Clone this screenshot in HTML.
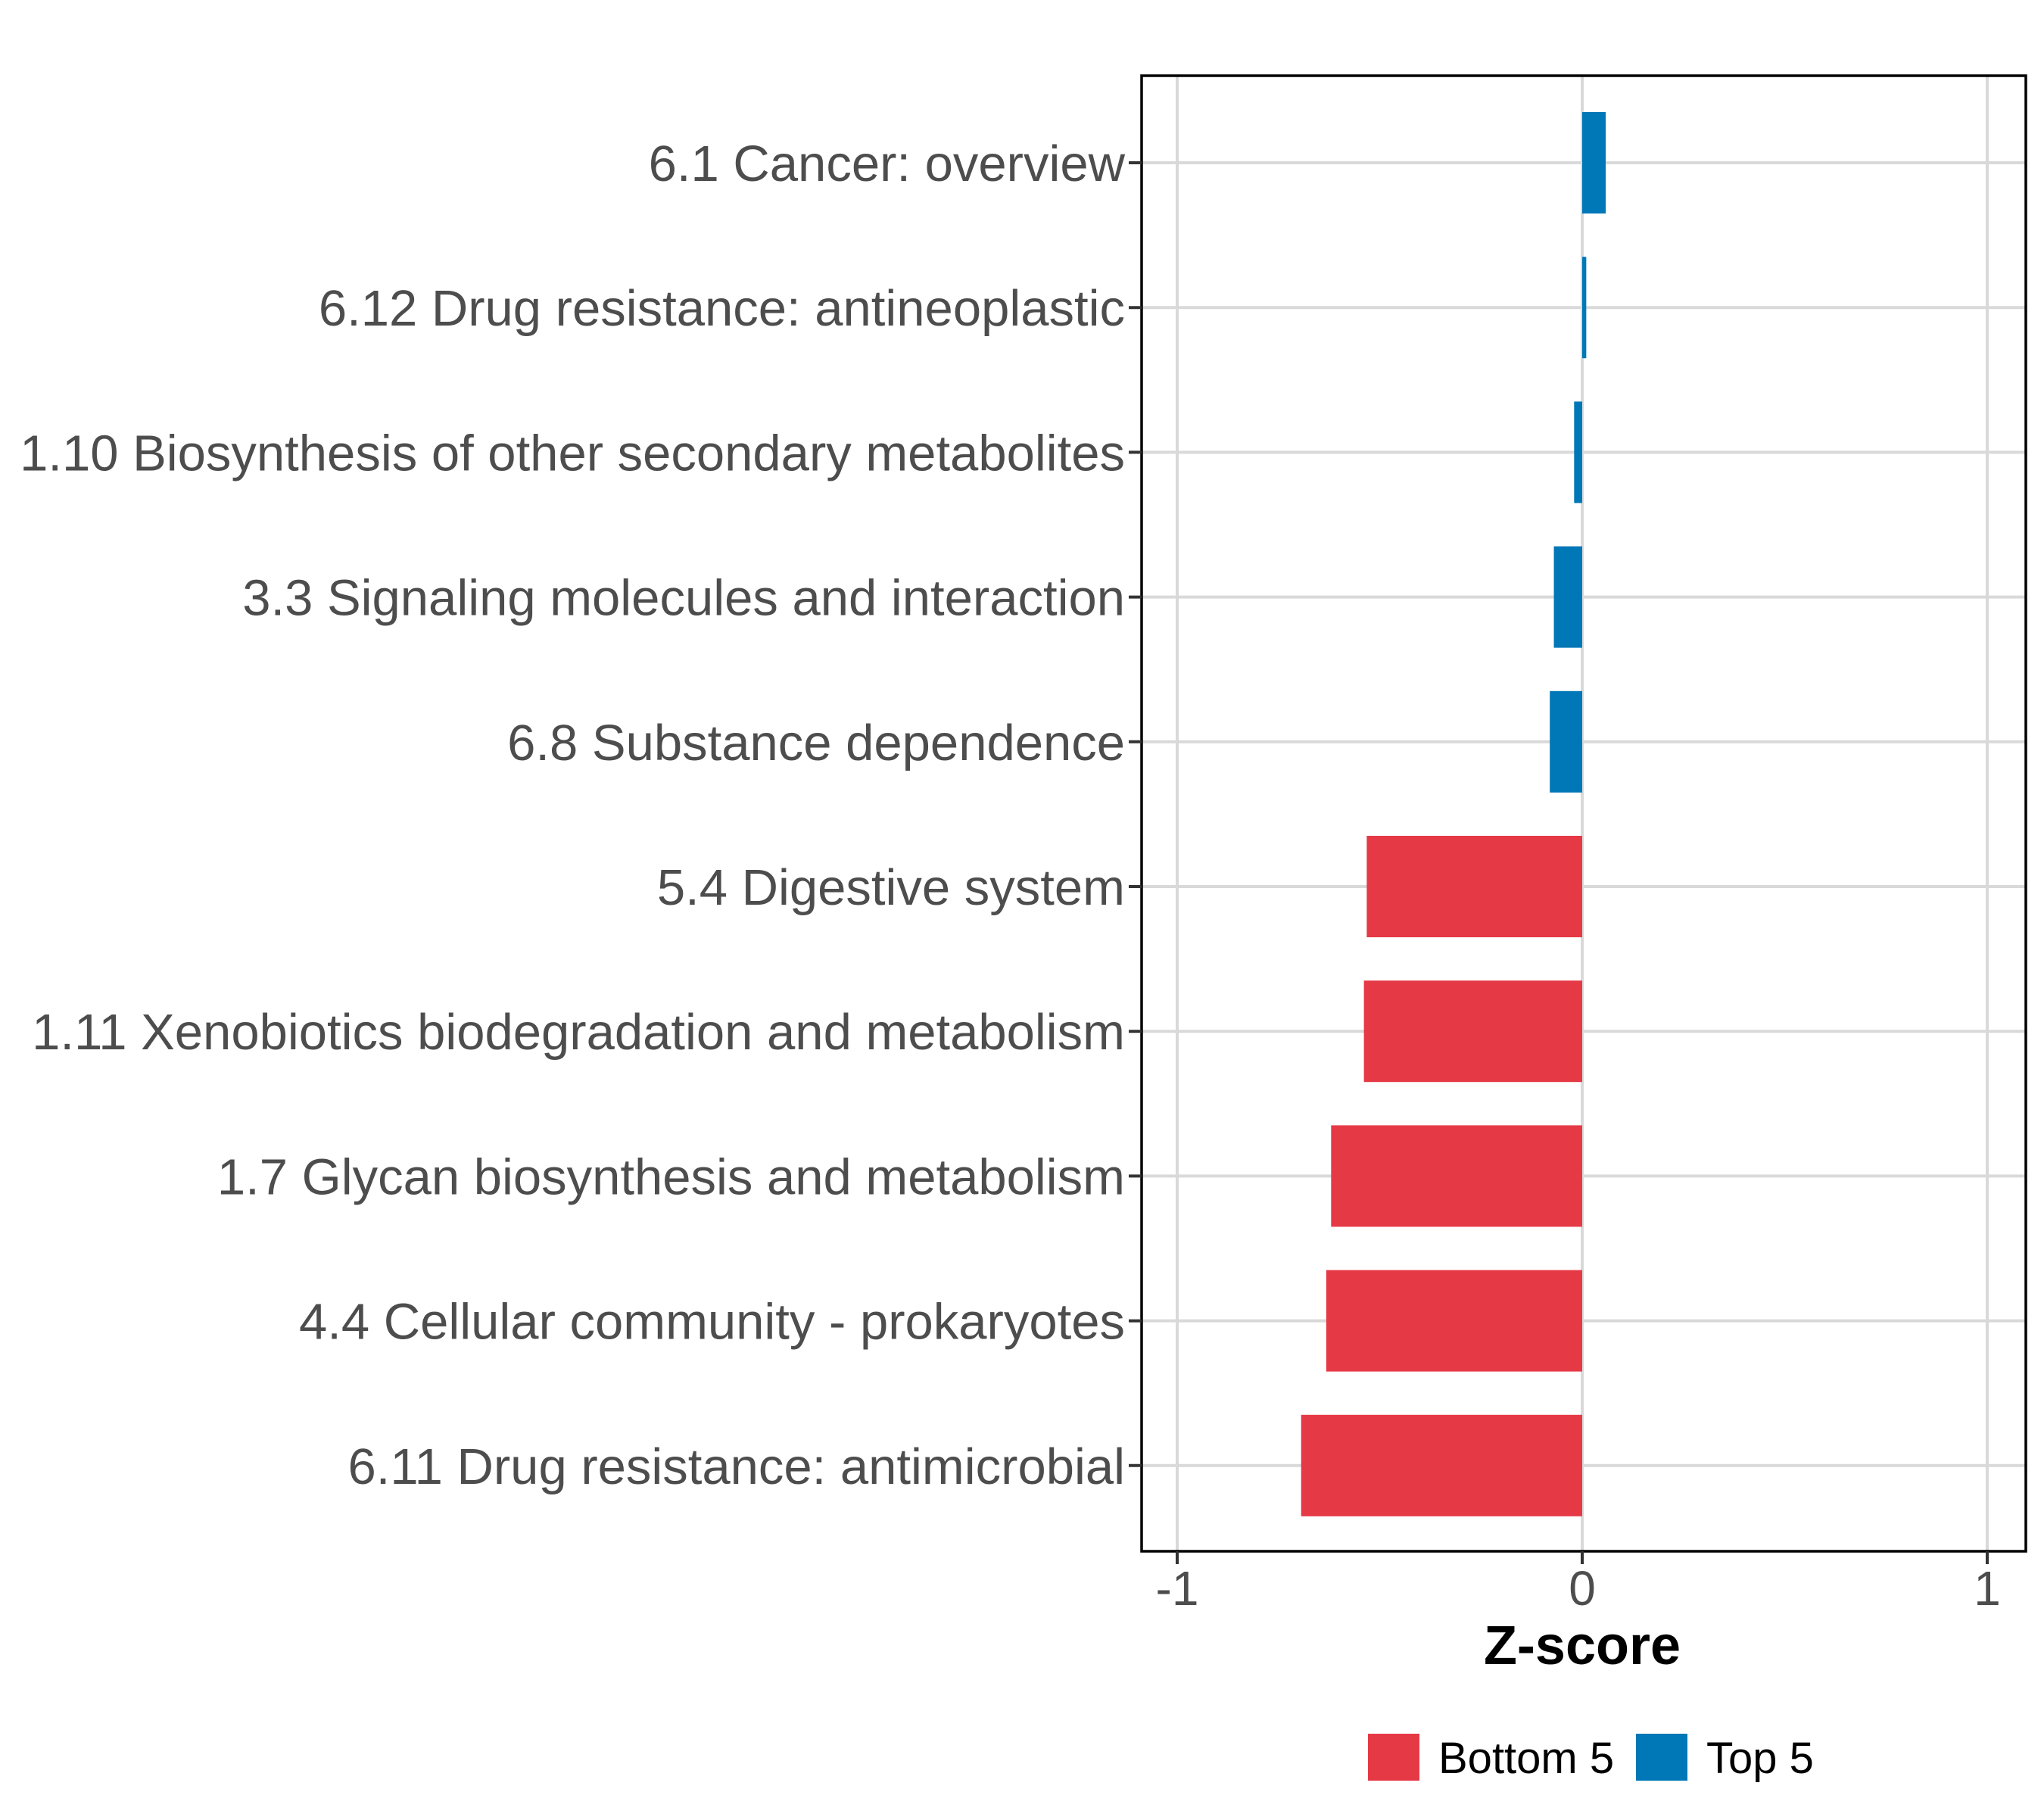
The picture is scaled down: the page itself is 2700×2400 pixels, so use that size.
<!DOCTYPE html>
<html><head><meta charset="utf-8"><style>
body{margin:0;background:#fff}
svg{display:block;font-family:"Liberation Sans",Arial,sans-serif}
</style></head><body>
<svg id="chart" width="2700" height="2400" viewBox="0 0 2700 2400" xmlns="http://www.w3.org/2000/svg">
<rect x="0" y="0" width="2700" height="2400" fill="#fff"/>
<g id="grid"></g>
<g id="bars"></g>
<rect x="1508" y="100" width="1168" height="1949" fill="none" stroke="#000" stroke-width="3.5"/>
<g id="yaxis"></g>
<g id="xaxis"></g>
<text x="2090" y="2198" text-anchor="middle" font-size="72" font-weight="bold" fill="#000">Z-score</text>
<g transform="translate(-5,-8)">
<rect x="1812" y="2298" width="68" height="62" fill="#E63946"/>
<text x="1905" y="2350" font-size="58" fill="#000">Bottom 5</text>
<rect x="2166" y="2298" width="68" height="62" fill="#0077B6"/>
<text x="2259" y="2350" font-size="58" fill="#000">Top 5</text>
</g>
</svg>
<script>
const categories=["6.1 Cancer: overview","6.12 Drug resistance: antineoplastic","1.10 Biosynthesis of other secondary metabolites","3.3 Signaling molecules and interaction","6.8 Substance dependence","5.4 Digestive system","1.11 Xenobiotics biodegradation and metabolism","1.7 Glycan biosynthesis and metabolism","4.4 Cellular community - prokaryotes","6.11 Drug resistance: antimicrobial"];
const values=[0.058,0.01,-0.02,-0.07,-0.08,-0.532,-0.539,-0.62,-0.632,-0.694];
const groups=["Top 5","Top 5","Top 5","Top 5","Top 5","Bottom 5","Bottom 5","Bottom 5","Bottom 5","Bottom 5"];
const xTicks=[-1,0,1];
const xTickLabels=["-1","0","1"];
const NS="http://www.w3.org/2000/svg";
const X=v=>2090+v*535;
const Y=i=>215+i*191.2;
const bandH=134;
function mk(t,a,p){const e=document.createElementNS(NS,t);for(const k in a)e.setAttribute(k,a[k]);p.appendChild(e);return e;}
const grid=document.getElementById('grid'),bars=document.getElementById('bars'),ya=document.getElementById('yaxis'),xa=document.getElementById('xaxis');
xTicks.forEach((t,i)=>{
 const g=mk('line',{x1:X(t),x2:X(t),y1:100,y2:2049,stroke:'#D9D9D9','stroke-width':4},grid);
 
 
 const tk=mk('line',{x1:X(t),x2:X(t),y1:2049,y2:2066,stroke:'#333','stroke-width':4},xa);
 
 
 const tl=mk('text',{x:X(t),y:2120,'text-anchor':'middle','font-size':64,fill:'#4D4D4D'},xa);
 tl.textContent=xTickLabels[i];
 
 
});
categories.forEach((c,i)=>{
 const g=mk('line',{x1:1508,x2:2676,y1:Y(i),y2:Y(i),stroke:'#D9D9D9','stroke-width':4},grid);
 
 
 const v=values[i];
 const r=mk('rect',{x:Math.min(X(0),X(v)),y:Y(i)-bandH/2,width:Math.abs(X(v)-X(0)),height:bandH,fill:groups[i]==="Top 5"?'#0077B6':'#E63946'},bars);
 
 
 const tk=mk('line',{x1:1491,x2:1508,y1:Y(i),y2:Y(i),stroke:'#333','stroke-width':4},ya);
 
 
 const tl=mk('text',{x:1486,y:Y(i)+24,'text-anchor':'end','font-size':67,fill:'#4D4D4D'},ya);
 tl.textContent=c;
 
 
});
</script>
</body></html>
